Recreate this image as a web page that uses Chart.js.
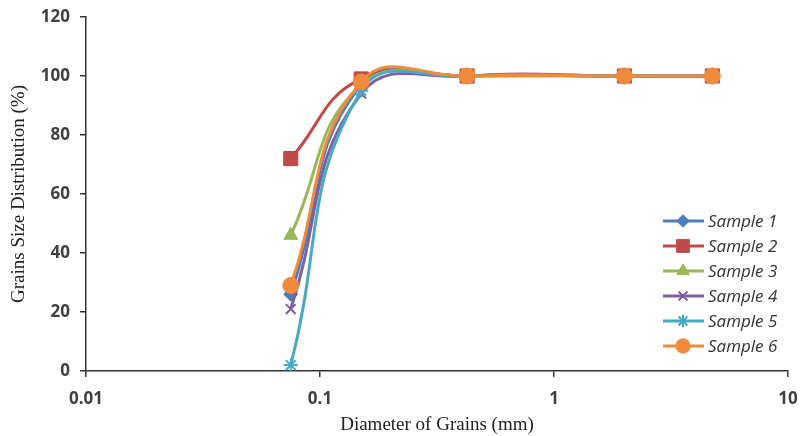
<!DOCTYPE html>
<html lang="en">
<head>
  <meta charset="UTF-8">
  <title>Grains Size Distribution</title>
  <script src="https://cdn.jsdelivr.net/npm/chart.js"></script>
  <style>
    body {
      margin: 0;
      background: #fff;
    }
    #wrap {
      width: 801px;
      height: 436px;
    }
  </style>
</head>
<body>
  <div id="wrap">
    <canvas id="chart" width="801" height="436"></canvas>
  </div>

  <script>
    // sieve sizes (mm) and % passing per sample
    const sizes = [0.075, 0.15, 0.425, 2.0, 4.75];
    const sample1 = [26, 97, 100, 100, 100];
    const sample2 = [72, 99, 100, 100, 100];
    const sample3 = [46, 97, 100, 100, 100];
    const sample4 = [21, 94, 100, 100, 100];
    const sample5 = [2, 95, 100, 100, 100];
    const sample6 = [29, 98, 100, 100, 100];
    const seriesNames = ['Sample 1', 'Sample 2', 'Sample 3', 'Sample 4', 'Sample 5', 'Sample 6'];
    const xTicks = [0.01, 0.1, 1, 10];
    const yTicks = [0, 20, 40, 60, 80, 100, 120];

    const colors = ['#4a7ebb', '#be4b48', '#98b954', '#7d60a0', '#46aac5', '#f08a3c'];
    const markers = ['rectRot', 'rect', 'triangle', 'crossRot', 'star', 'circle'];
    const radii = [7, 10, 8, 7, 7, 8];

    const allSeries = [sample1, sample2, sample3, sample4, sample5, sample6];

    const datasets = allSeries.map((vals, i) => ({
      label: seriesNames[i],
      data: vals.map((v, j) => ({ x: sizes[j], y: v })),
      borderColor: colors[i],
      backgroundColor: colors[i],
      borderWidth: 3,
      pointStyle: markers[i],
      pointRadius: radii[i],
      pointBorderWidth: (markers[i] === 'crossRot' || markers[i] === 'star') ? 2 : 1,
      pointBorderColor: colors[i],
      pointBackgroundColor: colors[i],
      tension: 0.45,
      order: 6 - i,
      clip: false
    }));

    // legend drawn inside the plot, line + marker like the original
    const sideLegend = {
      id: 'sideLegend',
      afterDraw(chart) {
        const ctx = chart.ctx;
        ctx.save();
        chart.data.datasets.forEach((ds, i) => {
          const y = 221 + i * 25;
          ctx.strokeStyle = ds.borderColor;
          ctx.fillStyle = ds.borderColor;
          ctx.lineWidth = 3;
          ctx.beginPath();
          ctx.moveTo(663, y);
          ctx.lineTo(704, y);
          ctx.stroke();
          ctx.lineWidth = ds.pointBorderWidth;
          Chart.helpers.drawPoint(ctx, {
            pointStyle: ds.pointStyle,
            radius: ds.pointRadius * 0.9,
            rotation: 0,
            borderWidth: ds.pointBorderWidth
          }, 683, y);
          ctx.fillStyle = '#333';
          ctx.font = 'italic 17px "Open Sans"';
          ctx.textBaseline = 'middle';
          ctx.textAlign = 'left';
          ctx.fillText(ds.label, 708, y + 1);
        });
        ctx.restore();
      }
    };

    const tickFont = { family: '"Open Sans"', size: 17, weight: 'bold' };
    const titleFont = { family: '"Liberation Serif"', size: 19 };

    new Chart(document.getElementById('chart').getContext('2d'), {
      type: 'line',
      data: { datasets },
      options: {
        responsive: false,
        animation: false,
        layout: { padding: { top: 17, right: 13, left: 0, bottom: 0 } },
        plugins: {
          legend: { display: false },
          tooltip: { enabled: false }
        },
        scales: {
          x: {
            type: 'logarithmic',
            min: 0.01,
            max: 10,
            afterBuildTicks: (scale) => {
              scale.ticks = xTicks.map(v => ({ value: v }));
            },
            afterFit: (scale) => {
              scale.height = 65;
              scale.paddingLeft = 0;
              scale.paddingRight = 0;
            },
            ticks: {
              color: '#404040',
              font: tickFont,
              padding: 12,
              maxRotation: 0,
              autoSkip: false,
              callback: (v) => String(v)
            },
            grid: {
              drawOnChartArea: false,
              drawTicks: true,
              tickLength: 6,
              tickColor: '#333',
              lineWidth: 1.5
            },
            border: { display: true, color: '#333', width: 1.5 },
            title: {
              display: true,
              text: 'Diameter of Grains (mm)',
              color: '#222',
              font: titleFont,
              padding: { top: 4, bottom: 0 }
            }
          },
          y: {
            min: 0,
            max: 120,
            afterBuildTicks: (scale) => {
              scale.ticks = yTicks.map(v => ({ value: v }));
            },
            afterFit: (scale) => {
              scale.width = 86;
              scale.paddingTop = 0;
              scale.paddingBottom = 0;
            },
            ticks: {
              color: '#404040',
              font: tickFont,
              padding: 10
            },
            grid: {
              drawOnChartArea: false,
              drawTicks: true,
              tickLength: 6,
              tickColor: '#333',
              lineWidth: 1.5
            },
            border: { display: true, color: '#333', width: 1.5 },
            title: {
              display: true,
              text: 'Grains Size Distribution (%)',
              color: '#222',
              font: titleFont,
              padding: { top: 8 }
            }
          }
        }
      },
      plugins: [sideLegend]
    });
  </script>
</body>
</html>
